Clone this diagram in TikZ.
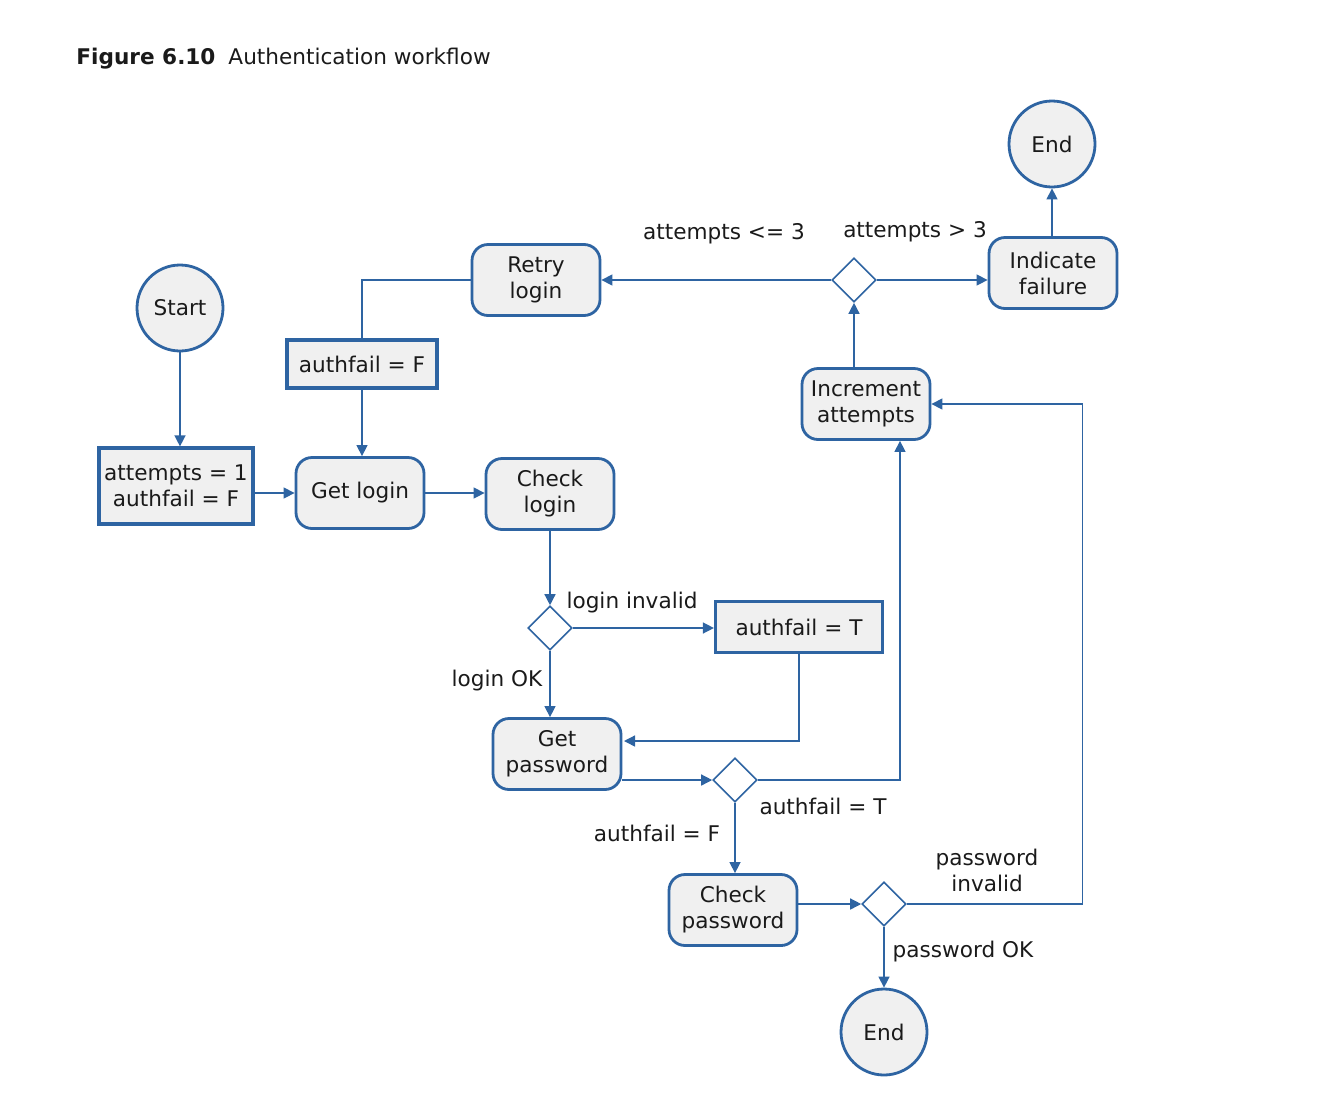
\documentclass[tikz,border=0pt]{standalone}
\usepackage{fontspec}
\setmainfont{DejaVu Sans}
\usetikzlibrary{arrows.meta,shapes.geometric}
\definecolor{flowblue}{HTML}{2E64A2}
\definecolor{boxfill}{HTML}{F0F0F0}
\definecolor{ink}{HTML}{1A1A1A}
\begin{document}
\begin{tikzpicture}[x=0.5pt,y=-0.5pt,
  font=\fontsize{10.8}{13}\selectfont,
  every node/.style={inner sep=0pt, text=ink},
  action/.style={draw=flowblue, line width=1.4pt, fill=boxfill, rounded corners=8pt,
    minimum width=64pt, minimum height=35.5pt, align=center},
  assign/.style={draw=flowblue, line width=1.6pt, fill=boxfill, align=center},
  terminal/.style={circle, draw=flowblue, line width=1.4pt, fill=boxfill, minimum size=43pt},
  choice/.style={diamond, draw=flowblue, line width=0.8pt, fill=white, minimum size=22pt, aspect=1},
  flow/.style={draw=flowblue, line width=0.7pt, -{Triangle[length=5.5pt,width=5.5pt]}},
  link/.style={draw=flowblue, line width=0.7pt},
  lbl/.style={align=center}
]
\useasboundingbox (0,0) rectangle (1326,1114);

% caption
\node[anchor=west] (title) at (76,59) {\textbf{Figure 6.10}\hspace{0.6em}Authentication workflow};

% nodes
\node[terminal] (start) at (180,308) {Start};
\node[assign, minimum width=77pt, minimum height=38pt] (init) at (176,486) {attempts = 1\\authfail = F};
\node[action] (getlogin) at (360,493) {Get login};
\node[action] (checklogin) at (550,494) {Check\\login};
\node[assign, minimum width=75pt, minimum height=24pt] (setF) at (362,364) {authfail = F};
\node[action] (retry) at (536,280) {Retry\\login};
\node[choice] (dtop) at (854,280) {};
\node[action] (fail) at (1053,273) {Indicate\\failure};
\node[terminal] (endT) at (1052,144) {End};
\node[action] (incr) at (866,404) {Increment\\attempts};
\node[choice] (dlogin) at (550,628) {};
\node[assign, minimum width=83.5pt, minimum height=25.5pt] (setT) at (799,627) {authfail = T};
\node[action] (getpw) at (557,754) {Get\\password};
\node[choice] (dauth) at (735,780) {};
\node[action] (checkpw) at (733,910) {Check\\password};
\node[choice] (dpw) at (884,904) {};
\node[terminal] (endB) at (884,1032) {End};
\coordinate (gpin) at (624,741);

% connectors
\draw[flow] (start) -- (start |- init.north);
\draw[flow] (init.east |- getlogin.west) -- (getlogin.west);
\draw[flow] (getlogin.east) -- (getlogin.east -| checklogin.west);
\draw[flow] (checklogin) -- (dlogin);
\draw[flow] (dlogin.east) -- (dlogin.east -| setT.west);
\draw[flow] (dlogin.south) -- (dlogin.south |- getpw.north);
\draw[flow] (setT.south) |- (gpin);
\draw[flow] (dauth.west -| getpw.east) -- (dauth.west);
\draw[flow] (dauth.east) -| ([xshift=17pt]incr.south);
\draw[flow] (dauth.south) -- (dauth.south |- checkpw.north);
\draw[flow] (checkpw.east |- dpw) -- (dpw.west);
\draw[flow] (dpw.south) -- (endB);
\draw[flow] (dpw.east) -| ([xshift=75.5pt]incr.east) -- (incr.east);
\draw[flow] (incr.north -| dtop) -- (dtop.south);
\draw[flow] (dtop.west) -- (dtop.west -| retry.east);
\draw[flow] (dtop.east) -- (dtop.east -| fail.west);
\draw[flow] (fail.north -| endT) -- (endT.south);
\draw[link] (retry.west) -| (setF.north);
\draw[flow] (setF.south) -- (setF.south |- getlogin.north);

% branch labels
\node[lbl] (lInvalid) at (632,603) {login invalid};
\node[lbl] (lOK) at (497,681) {login OK};
\node[lbl] (aT) at (823,806) {authfail = T};
\node[lbl] (aF) at (657,833) {authfail = F};
\node[lbl] (pInvalid) at (987,870) {password\\invalid};
\node[lbl] (pOK) at (963,952) {password OK};
\node[lbl] (aLe) at (724,234) {attempts <= 3};
\node[lbl] (aGt) at (915,232) {attempts > 3};
\end{tikzpicture}
\end{document}
